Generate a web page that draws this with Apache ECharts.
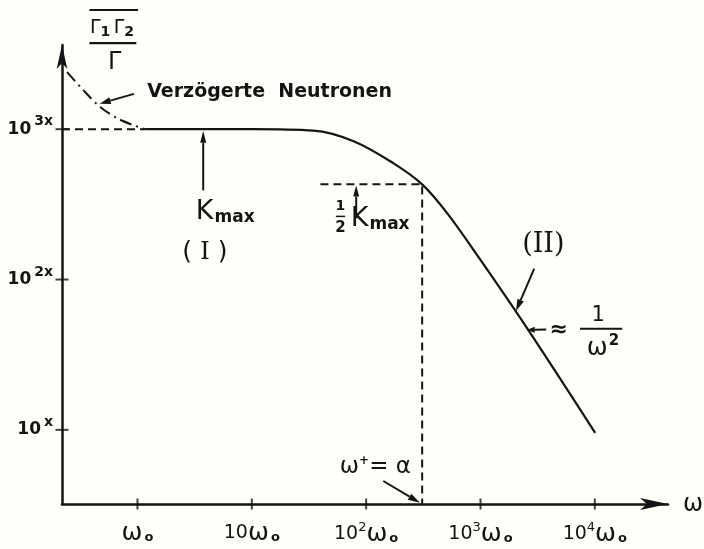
<!DOCTYPE html>
<html>
<head>
<meta charset="utf-8">
<script src="https://cdn.jsdelivr.net/npm/echarts@6/dist/echarts.min.js"></script>
<style>
  html, body { margin: 0; padding: 0; background: #fffffa; }
  #chart { width: 704px; height: 549px; }
</style>
</head>
<body>
<div id="chart"></div>
<script>
// Horizontal: decades of ω relative to ω0 (log10(ω/ω0)).
// Vertical: exponent in units of x, i.e. the value 10^(y·x).
const xTickValues = [0, 1, 2, 3, 4];
const xTickLabels = [
  '{w|ω}{o|o}',
  '{n|10}{w|ω}{o|o}',
  '{n|10}{p|2}{w|ω}{o|o}',
  '{n|10}{p|3}{w|ω}{o|o}',
  '{n|10}{p|4}{w|ω}{o|o}'
];
const yTickValues = [1, 2, 3];
const yTickLabels = ['x', '2x', '3x'];

// Rise at low frequency caused by delayed neutrons (dash-dot)
const delayedBranch = [
  [-0.615, 3.38], [-0.474, 3.26], [-0.326, 3.147],
  [-0.178, 3.073], [-0.038, 3.027], [0.07, 3.0]
];
// Plateau K_max (I) and the ~1/ω² roll-off (II)
const mainCurve = [
  [0.07, 3.0], [1.0, 3.0], [1.54, 2.99], [1.89, 2.92], [2.24, 2.773],
  [2.49, 2.633], [2.71, 2.44], [3.0, 2.13], [3.41, 1.673], [4.003, 0.98]
];
// Guide lines: level K_max, and half level with its corner frequency ω⁺ = α
const kmaxLevel = 3.0;
const halfKmaxLevel = 2.633;
const cornerFreq = 2.49;

const X_MIN = -0.66, X_MAX = 4.64;
const Y_MIN = 0.507, Y_MAX = 3.56;
const INK = '#141414';

const chart = echarts.init(document.getElementById('chart'), null, { renderer: 'canvas' });

const dashed = { color: INK, width: 2, type: [8, 5] };

chart.setOption({
  animation: false,
  backgroundColor: '#fffffa',
  grid: { left: 62, right: 36, top: 45, bottom: 45, containLabel: false, outerBoundsMode: 'none' },
  xAxis: {
    type: 'value', min: X_MIN, max: X_MAX,
    splitLine: { show: false },
    axisLine: { onZero: false, lineStyle: { color: INK, width: 2.5 }, symbol: ['none', 'arrow'], symbolSize: [9, 28] },
    axisTick: { show: false },
    axisLabel: {
      customValues: xTickValues,
      margin: 17,
      color: INK,
      formatter: v => xTickLabels[xTickValues.indexOf(Math.round(v))],
      rich: {
        n: { fontSize: 19, fontFamily: 'DejaVu Sans', color: INK },
        p: { fontSize: 13, fontFamily: 'DejaVu Sans', color: INK, padding: [0, 0, 13, 0] },
        w: { fontSize: 25, fontFamily: 'DejaVu Sans', color: INK },
        o: { fontSize: 13, fontWeight: 'bold', fontFamily: 'DejaVu Sans', color: INK, padding: [9, 0, 0, 2] }
      }
    }
  },
  yAxis: {
    type: 'value', min: Y_MIN, max: Y_MAX,
    splitLine: { show: false },
    axisLine: { onZero: false, lineStyle: { color: INK, width: 2.5 }, symbol: ['none', 'arrow'], symbolSize: [8, 24] },
    axisTick: { show: false },
    axisLabel: {
      customValues: yTickValues,
      margin: 9,
      color: INK,
      formatter: v => '{n|10}{s|' + yTickLabels[yTickValues.indexOf(Math.round(v))] + '}',
      rich: {
        n: { fontSize: 17, fontWeight: 'bold', fontFamily: 'DejaVu Sans', color: INK },
        s: { fontSize: 14, fontWeight: 'bold', fontFamily: 'DejaVu Sans', color: INK, padding: [0, 0, 15, 3] }
      }
    }
  },
  series: [
    {
      type: 'line', data: delayedBranch, smooth: 0.3, symbol: 'none',
      lineStyle: { color: INK, width: 2, type: [12, 5, 2, 5] }
    },
    {
      type: 'line', data: mainCurve, smooth: 0.35, symbol: 'none',
      lineStyle: { color: INK, width: 2.2 }
    },
    {
      type: 'line', symbol: 'none', lineStyle: dashed,
      data: [[X_MIN, kmaxLevel], [0.07, kmaxLevel]]
    },
    {
      type: 'line', symbol: 'none', lineStyle: dashed,
      data: [[1.6, halfKmaxLevel], [cornerFreq, halfKmaxLevel], [cornerFreq, Y_MIN]]
    },
    {
      // tick marks crossing the horizontal axis
      type: 'scatter', symbol: 'rect', symbolSize: [2, 11], silent: true,
      itemStyle: { color: INK },
      data: xTickValues.map(v => [v, Y_MIN])
    },
    {
      // tick marks crossing the vertical axis
      type: 'scatter', symbol: 'rect', symbolSize: [13, 2], silent: true,
      itemStyle: { color: INK },
      data: yTickValues.map(v => [X_MIN, v])
    }
  ]
});

// ---- annotations, anchored in data space ----
const P = pt => chart.convertToPixel({ gridIndex: 0 }, pt);

function arrow(from, to, headLen, headHalf) {
  const a = P(from), b = P(to);
  const dx = b[0] - a[0], dy = b[1] - a[1];
  const len = Math.hypot(dx, dy);
  const ux = dx / len, uy = dy / len;
  const bx = b[0] - ux * headLen, by = b[1] - uy * headLen;
  const nx = -uy * headHalf, ny = ux * headHalf;
  return [
    { type: 'line', shape: { x1: a[0], y1: a[1], x2: bx, y2: by }, style: { stroke: INK, lineWidth: 2 } },
    { type: 'polygon', shape: { points: [[b[0], b[1]], [bx + nx, by + ny], [bx - nx, by - ny]] }, style: { fill: INK } }
  ];
}

function text(pt, str, font, align) {
  const p = P(pt);
  return {
    type: 'text', x: p[0], y: p[1],
    style: { text: str, font: font, fill: INK, align: align || 'center', verticalAlign: 'middle' }
  };
}

function richText(pt, str, rich, align) {
  const p = P(pt);
  return {
    type: 'text', x: p[0], y: p[1],
    style: { text: str, rich: rich, fill: INK, align: align || 'left', verticalAlign: 'middle' }
  };
}

function hline(x1, x2, y, w) {
  const a = P([x1, y]), b = P([x2, y]);
  return { type: 'line', shape: { x1: a[0], y1: a[1], x2: b[0], y2: b[1] }, style: { stroke: INK, lineWidth: w } };
}

const kRich = {
  k: { fontSize: 27, fontFamily: 'DejaVu Sans', fill: INK },
  m: { fontSize: 17, fontFamily: 'DejaVu Sans', fontWeight: 'bold', fill: INK, padding: [11, 0, 0, 1] }
};

const elements = [].concat(
  // quantity on the vertical axis
  hline(-0.42, 0.005, 3.793, 2),
  [richText([-0.415, 3.673], '{g|Γ}{d|1} {g|Γ}{d|2}', {
    g: { fontSize: 19, fontFamily: 'DejaVu Sans', fill: INK },
    d: { fontSize: 14, fontWeight: 'bold', fontFamily: 'DejaVu Sans', fill: INK, padding: [9, 0, 0, 0] }
  }, 'left')],
  hline(-0.42, -0.01, 3.573, 2.2),
  [text([-0.2, 3.44], 'Γ', '24px "DejaVu Sans"')],
  // delayed neutrons
  [text([0.085, 3.247], 'Verzögerte  Neutronen', 'bold 19px "DejaVu Sans"', 'left')],
  arrow([-0.03, 3.235], [-0.33, 3.17], 11, 3.5),
  // K_max and plateau (I)
  arrow([0.575, 2.593], [0.575, 2.99], 12, 3),
  [richText([0.51, 2.447], '{k|K}{m|max}', kRich, 'left')],
  [richText([0.59, 2.18], '{p|(}{i| I }{p|)}', {
    p: { fontSize: 25, fontFamily: 'DejaVu Sans', fill: INK },
    i: { fontSize: 25, fontFamily: 'DejaVu Serif', fill: INK }
  }, 'center')],
  // half of K_max
  arrow([1.913, 2.407], [1.913, 2.625], 11, 3),
  [text([1.775, 2.49], '1', 'bold 14px "DejaVu Sans"')],
  hline(1.735, 1.815, 2.42, 1.5),
  [text([1.775, 2.345], '2', 'bold 15px "DejaVu Sans"')],
  [richText([1.865, 2.4], '{k|K}{m|max}', kRich, 'left')],
  // roll-off (II) ~ 1/ω²
  [text([3.55, 2.227], '(II)', '27px "DejaVu Serif"')],
  arrow([3.47, 2.073], [3.31, 1.79], 12, 3.5),
  arrow([3.575, 1.667], [3.405, 1.665], 8, 3),
  [text([3.685, 1.665], '≈', 'bold 22px "DejaVu Sans"')],
  [text([4.03, 1.76], '1', '21px "DejaVu Sans"')],
  hline(3.87, 4.24, 1.673, 2),
  [richText([3.93, 1.54], '{w|ω}{s|2}', {
    w: { fontSize: 25, fontFamily: 'DejaVu Sans', fill: INK },
    s: { fontSize: 15, fontWeight: 'bold', fontFamily: 'DejaVu Sans', fill: INK, padding: [0, 0, 15, 1] }
  }, 'left')],
  // corner frequency
  [richText([1.77, 0.753], '{w|ω}{s|+}{e|= α}', {
    w: { fontSize: 23, fontFamily: 'DejaVu Sans', fill: INK },
    s: { fontSize: 12, fontWeight: 'bold', fontFamily: 'DejaVu Sans', fill: INK, padding: [0, 0, 12, 0] },
    e: { fontSize: 23, fontFamily: 'DejaVu Sans', fill: INK }
  }, 'left')],
  arrow([2.15, 0.66], [2.47, 0.515], 12, 3.5),
  // frequency axis name
  [text([4.86, 0.50], 'ω', '24px "DejaVu Sans"')]
);

chart.setOption({ graphic: elements });
</script>
</body>
</html>
